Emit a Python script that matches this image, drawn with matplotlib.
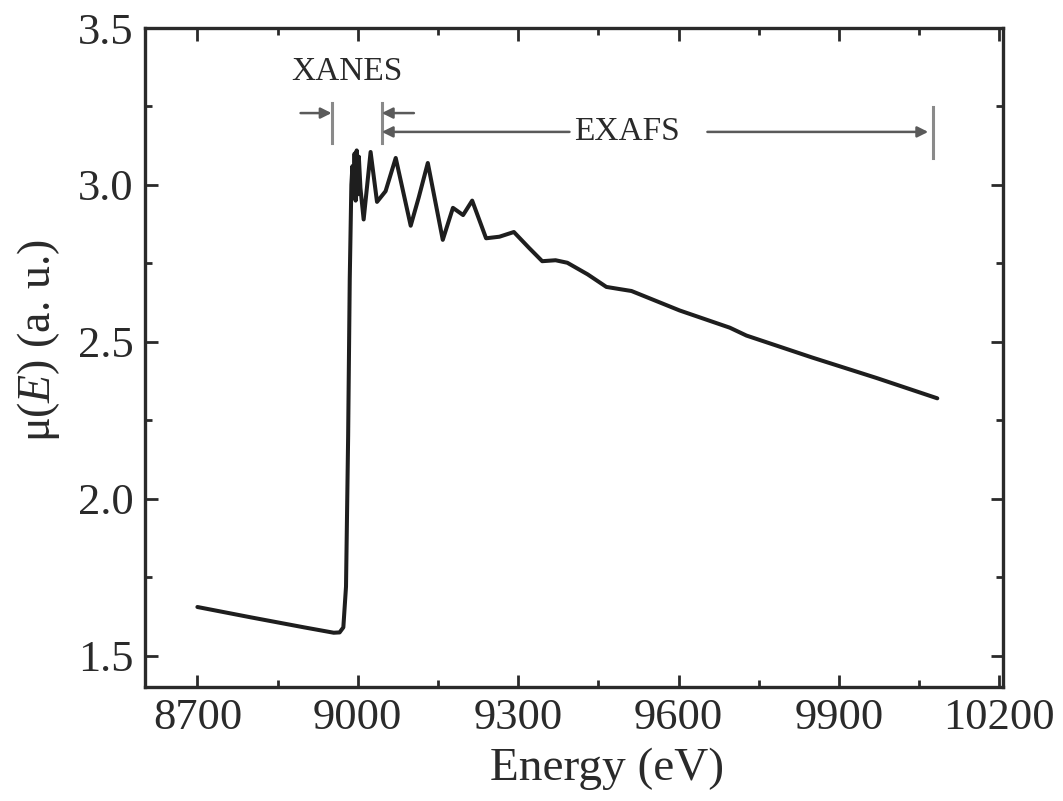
import matplotlib.pyplot as plt
import numpy as np

# spectrum
energy = [8700, 8800, 8900, 8955, 8966, 8973, 8978, 8982, 8985, 8988,
          8990, 8992, 8994, 8996, 8998, 9000, 9002, 9005, 9011, 9024,
          9036, 9052, 9071, 9099, 9114, 9131, 9159, 9178, 9197, 9214,
          9240, 9265, 9292, 9320, 9345, 9370, 9392, 9430, 9465, 9490,
          9512, 9602, 9696, 9727, 9850, 9970, 10084]
mu = [1.655, 1.622, 1.590, 1.573, 1.574, 1.590, 1.72, 2.20, 2.70, 3.00,
      3.06, 2.96, 3.10, 2.95, 3.11, 2.97, 3.09, 2.99, 2.89, 3.105,
      2.946, 2.98, 3.086, 2.87, 2.96, 3.07, 2.825, 2.927, 2.904, 2.95,
      2.83, 2.835, 2.85, 2.80, 2.757, 2.760, 2.752, 2.715, 2.675, 2.668,
      2.662, 2.600, 2.545, 2.520, 2.450, 2.385, 2.320]

# region markers
xanes_start, xanes_end = 8951, 9045
exafs_end = 10076

plt.rcParams["font.family"] = ["Liberation Serif", "DejaVu Serif"]
plt.rcParams["mathtext.fontset"] = "custom"
plt.rcParams["mathtext.rm"] = "Liberation Serif"
plt.rcParams["mathtext.it"] = "Liberation Serif:italic"

fig = plt.figure(figsize=(10.63, 8.01), dpi=100)
ax = fig.add_axes([0.1364, 0.1423, 0.8072, 0.8227])

ax.plot(energy, mu, color="#1e1e1e", linewidth=2.9,
        solid_joinstyle="round", solid_capstyle="round")

gray = "#5a5a5a"
bar_kw = dict(color="#8a8a8a", linewidth=2.2)
ax.plot([xanes_start, xanes_start], [3.134, 3.261], **bar_kw)
ax.plot([xanes_end, xanes_end], [3.134, 3.261], **bar_kw)
ax.plot([exafs_end, exafs_end], [3.086, 3.248], **bar_kw)

arr = dict(arrowstyle="-|>", color=gray, lw=1.8, mutation_scale=16,
           shrinkA=0, shrinkB=0)
ax.annotate("", xy=(xanes_start, 3.229), xytext=(8893, 3.229), arrowprops=arr)
ax.annotate("", xy=(xanes_end, 3.229), xytext=(9105, 3.229), arrowprops=arr)
ax.annotate("", xy=(xanes_end, 3.169), xytext=(9396, 3.169), arrowprops=arr)
ax.annotate("", xy=(10067, 3.169), xytext=(9654, 3.169), arrowprops=arr)

ax.text(8979, 3.36, "XANES", ha="center", va="center", fontsize=24, color="#2a2a2a")
ax.text(9504, 3.169, "EXAFS", ha="center", va="center", fontsize=24, color="#2a2a2a")

ax.set_xlim(8602, 10207)
ax.set_ylim(1.4, 3.5)
ax.set_xticks([8700, 9000, 9300, 9600, 9900, 10200])
ax.set_xticks(np.arange(8850, 10200, 300), minor=True)
ax.set_yticks([1.5, 2.0, 2.5, 3.0, 3.5])
ax.set_yticks([1.75, 2.25, 2.75, 3.25], minor=True)
ax.set_yticklabels(["1.5", "2.0", "2.5", "3.0", "3.5"])

ax.tick_params(which="both", direction="in", top=True, right=True,
               labelsize=32, colors="#2a2a2a", width=2)
ax.tick_params(which="major", length=9, pad=8)
ax.tick_params(which="minor", length=5)
for s in ax.spines.values():
    s.set_linewidth(2.4)
    s.set_color("#2a2a2a")

ax.set_xlabel("Energy (eV)", fontsize=34, color="#2a2a2a", labelpad=6.5, x=0.538)
ax.set_ylabel(r"μ($\mathit{E}$) (a. u.)", fontsize=33, color="#2a2a2a",
              labelpad=11.5, y=0.526)

fig.savefig("out.png", dpi=100)
